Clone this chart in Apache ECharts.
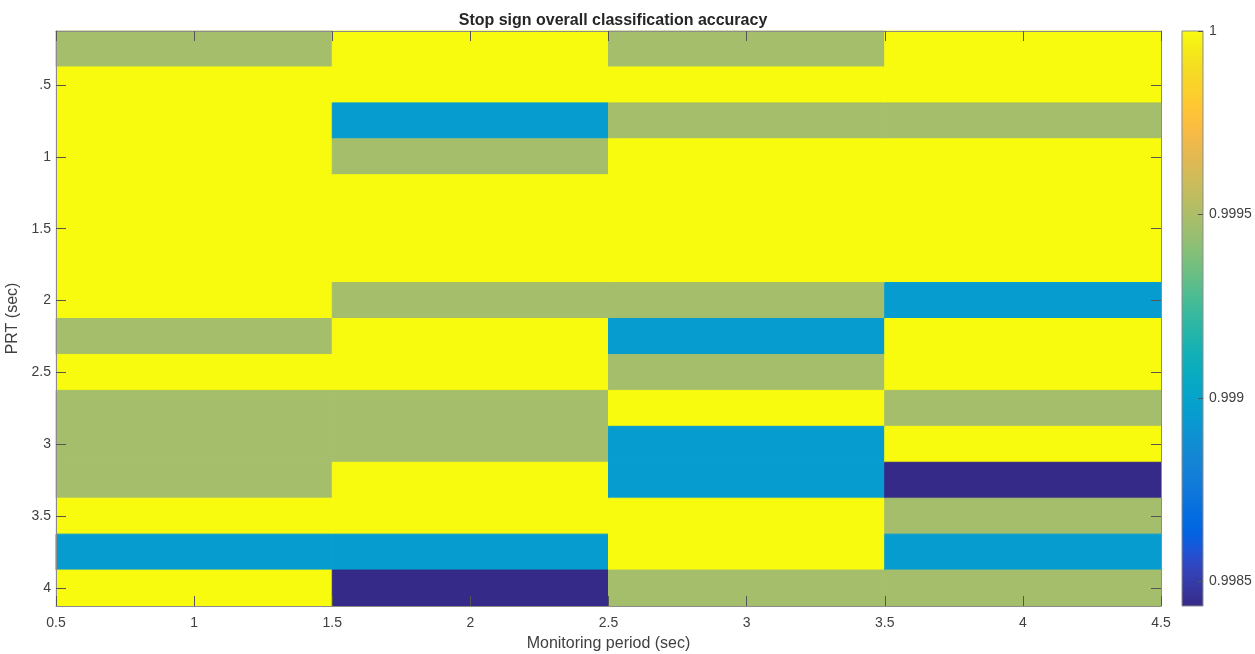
<!DOCTYPE html>
<html>
<head>
<meta charset="utf-8">
<script src="https://cdn.jsdelivr.net/npm/echarts@6/dist/echarts.min.js"></script>
<style>
html,body{margin:0;padding:0;background:#fff;}
#chart{width:1255px;height:654px;}
</style>
</head>
<body>
<div id="chart"></div>
<script>
// ---- data ----
var monitoringPeriods = [1, 2, 3, 4];
var prtValues = [0.25, 0.5, 0.75, 1.0, 1.25, 1.5, 1.75, 2.0, 2.25, 2.5, 2.75, 3.0, 3.25, 3.5, 3.75, 4.0];
var Y = 1.0, G = 0.999478, B = 0.998955, D = 0.998433;
var accMonitoring1 = [G, Y, Y, Y, Y, Y, Y, Y, G, Y, G, G, G, Y, B, Y];
var accMonitoring2 = [Y, Y, B, G, Y, Y, Y, G, Y, Y, G, G, Y, Y, B, D];
var accMonitoring3 = [G, Y, G, Y, Y, Y, Y, G, B, G, Y, B, B, Y, Y, G];
var accMonitoring4 = [Y, Y, G, Y, Y, Y, Y, B, Y, Y, G, Y, D, G, B, G];
var yTickValues = [0.5, 1, 1.5, 2, 2.5, 3, 3.5, 4];
var yTickLabels = ['.5', '1', '1.5', '2', '2.5', '3', '3.5', '4'];
var cbarTickValues = [0.9985, 0.999, 0.9995, 1];
var cbarTickLabels = ['0.9985', '0.999', '0.9995', '1'];
var colorMin = 0.998433, colorMax = 1.0;

var parula = [
[0.2081,0.1663,0.5292],[0.2116,0.1898,0.5777],[0.2123,0.2138,0.6270],[0.2081,0.2386,0.6771],
[0.1959,0.2645,0.7279],[0.1707,0.2919,0.7792],[0.1253,0.3242,0.8303],[0.0591,0.3598,0.8683],
[0.0117,0.3875,0.8820],[0.0060,0.4086,0.8828],[0.0165,0.4266,0.8786],[0.0329,0.4430,0.8720],
[0.0498,0.4586,0.8641],[0.0629,0.4737,0.8554],[0.0723,0.4887,0.8467],[0.0779,0.5040,0.8384],
[0.0793,0.5200,0.8312],[0.0749,0.5375,0.8263],[0.0641,0.5570,0.8240],[0.0488,0.5772,0.8228],
[0.0343,0.5966,0.8199],[0.0265,0.6137,0.8135],[0.0239,0.6287,0.8038],[0.0231,0.6418,0.7913],
[0.0228,0.6535,0.7768],[0.0267,0.6642,0.7607],[0.0384,0.6743,0.7436],[0.0590,0.6838,0.7254],
[0.0843,0.6928,0.7062],[0.1133,0.7015,0.6859],[0.1453,0.7098,0.6646],[0.1801,0.7177,0.6424],
[0.2178,0.7250,0.6193],[0.2586,0.7317,0.5954],[0.3022,0.7376,0.5712],[0.3482,0.7424,0.5473],
[0.3953,0.7459,0.5244],[0.4420,0.7481,0.5033],[0.4871,0.7491,0.4840],[0.5300,0.7491,0.4661],
[0.5709,0.7485,0.4494],[0.6099,0.7473,0.4337],[0.6473,0.7456,0.4188],[0.6834,0.7435,0.4044],
[0.7184,0.7411,0.3905],[0.7525,0.7384,0.3768],[0.7858,0.7356,0.3633],[0.8185,0.7327,0.3498],
[0.8507,0.7299,0.3360],[0.8824,0.7274,0.3217],[0.9139,0.7258,0.3063],[0.9450,0.7261,0.2886],
[0.9739,0.7314,0.2666],[0.9938,0.7455,0.2403],[0.9990,0.7653,0.2164],[0.9955,0.7861,0.1967],
[0.9880,0.8066,0.1794],[0.9789,0.8271,0.1633],[0.9697,0.8481,0.1475],[0.9626,0.8705,0.1309],
[0.9589,0.8949,0.1132],[0.9598,0.9218,0.0948],[0.9661,0.9514,0.0755],[0.9763,0.9831,0.0538]
].map(function(c){
  return 'rgb(' + c.map(function(v){return Math.round(v*255);}).join(',') + ')';
});

// ---- build ----
var columns = [accMonitoring1, accMonitoring2, accMonitoring3, accMonitoring4];
var cellData = [];
monitoringPeriods.forEach(function(x, i){
  prtValues.forEach(function(y, j){
    cellData.push([x, y, columns[i][j]]);
  });
});
var xHalf = (monitoringPeriods[1] - monitoringPeriods[0]) / 2;
var yHalf = (prtValues[1] - prtValues[0]) / 2;

var axisLineColor = '#8c8c8c';
var tickColor = '#555';
var labelColor = '#404040';
var fontFamily = 'Liberation Sans, Arial, Helvetica, sans-serif';

var chart = echarts.init(document.getElementById('chart'), null, {renderer: 'canvas'});
var option = {
  backgroundColor: '#fff',
  animation: false,
  title: {
    text: 'Stop sign overall classification accuracy',
    left: 608, top: 8, textAlign: 'center',
    textStyle: {fontSize: 16, fontWeight: 'bold', color: '#262626', fontFamily: fontFamily}
  },
  grid: [
    {left: 56, right: 94, top: 31, bottom: 48, containLabel: false, outerBoundsMode: 'none'},
    {left: 1182, width: 21, top: 31, bottom: 48, containLabel: false, outerBoundsMode: 'none'}
  ],
  visualMap: {
    type: 'continuous', show: false, seriesIndex: 0, dimension: 2,
    min: colorMin, max: colorMax, inRange: {color: parula}
  },
  xAxis: [
    {
      gridIndex: 0, type: 'value', position: 'bottom', min: 0.5, max: 4.5, interval: 0.5, z: 10,
      name: 'Monitoring period (sec)', nameLocation: 'middle', nameGap: 30,
      nameTextStyle: {fontSize: 16, color: labelColor, fontFamily: fontFamily},
      axisLine: {show: true, onZero: false, lineStyle: {color: axisLineColor, width: 1}},
      axisTick: {show: true, inside: true, length: 10, lineStyle: {color: tickColor}},
      axisLabel: {fontSize: 14, color: labelColor, margin: 10, fontFamily: fontFamily},
      splitLine: {show: false}
    },
    {
      gridIndex: 0, type: 'value', position: 'top', min: 0.5, max: 4.5, interval: 0.5, z: 10,
      axisLine: {show: true, onZero: false, lineStyle: {color: axisLineColor, width: 1}},
      axisTick: {show: true, inside: true, length: 10, lineStyle: {color: tickColor}},
      axisLabel: {show: false},
      splitLine: {show: false}
    },
    {
      gridIndex: 1, type: 'value', min: 0, max: 1, show: false
    }
  ],
  yAxis: [
    {
      gridIndex: 0, type: 'value', position: 'left', inverse: true, min: 0.125, max: 4.125, z: 10,
      name: 'PRT (sec)', nameLocation: 'middle', nameGap: 29, nameRotate: 90,
      nameTextStyle: {fontSize: 16, color: labelColor, fontFamily: fontFamily},
      axisLine: {show: true, onZero: false, lineStyle: {color: axisLineColor, width: 1}},
      axisTick: {show: true, inside: true, length: 10, customValues: yTickValues, lineStyle: {color: tickColor}},
      axisLabel: {
        fontSize: 14, color: labelColor, margin: 5, fontFamily: fontFamily,
        customValues: yTickValues,
        formatter: function(v){ var k = yTickValues.indexOf(v); return k >= 0 ? yTickLabels[k] : ''; }
      },
      splitLine: {show: false}
    },
    {
      gridIndex: 0, type: 'value', position: 'right', inverse: true, min: 0.125, max: 4.125, z: 10,
      axisLine: {show: true, onZero: false, lineStyle: {color: axisLineColor, width: 1}},
      axisTick: {show: true, inside: true, length: 10, customValues: yTickValues, lineStyle: {color: tickColor}},
      axisLabel: {show: false},
      splitLine: {show: false}
    },
    {
      gridIndex: 1, type: 'value', position: 'right', min: colorMin, max: colorMax, z: 10,
      axisLine: {show: false, onZero: false},
      axisTick: {show: true, inside: true, length: 5, customValues: cbarTickValues, lineStyle: {color: tickColor}},
      axisLabel: {
        fontSize: 14, color: labelColor, margin: 6, fontFamily: fontFamily,
        customValues: cbarTickValues,
        formatter: function(v){
          for (var k = 0; k < cbarTickValues.length; k++) {
            if (Math.abs(cbarTickValues[k] - v) < 1e-9) return cbarTickLabels[k];
          }
          return '';
        }
      },
      splitLine: {show: false}
    }
  ],
  series: [
    {
      type: 'custom', xAxisIndex: 0, yAxisIndex: 0, z: 1,
      data: cellData,
      encode: {x: 0, y: 1},
      renderItem: function(params, api){
        var x = api.value(0), y = api.value(1);
        var p0 = api.coord([x - xHalf, y - yHalf]);
        var p1 = api.coord([x + xHalf, y + yHalf]);
        var c = api.visual('color');
        return {
          type: 'rect',
          shape: {
            x: Math.min(p0[0], p1[0]), y: Math.min(p0[1], p1[1]),
            width: Math.abs(p1[0] - p0[0]), height: Math.abs(p1[1] - p0[1])
          },
          style: {fill: c, stroke: c, lineWidth: 1}
        };
      }
    },
    {
      type: 'custom', xAxisIndex: 2, yAxisIndex: 2, z: 1,
      data: [[0, colorMin, colorMax]],
      renderItem: function(params, api){
        var p0 = api.coord([0, api.value(1)]);
        var p1 = api.coord([1, api.value(2)]);
        var stops = parula.map(function(c, i){ return {offset: i / (parula.length - 1), color: c}; });
        return {
          type: 'rect',
          shape: {
            x: Math.min(p0[0], p1[0]), y: Math.min(p0[1], p1[1]),
            width: Math.abs(p1[0] - p0[0]), height: Math.abs(p1[1] - p0[1])
          },
          style: {
            fill: new echarts.graphic.LinearGradient(0, 1, 0, 0, stops),
            stroke: axisLineColor, lineWidth: 1
          }
        };
      }
    }
  ]
};
chart.setOption(option);
</script>
</body>
</html>
